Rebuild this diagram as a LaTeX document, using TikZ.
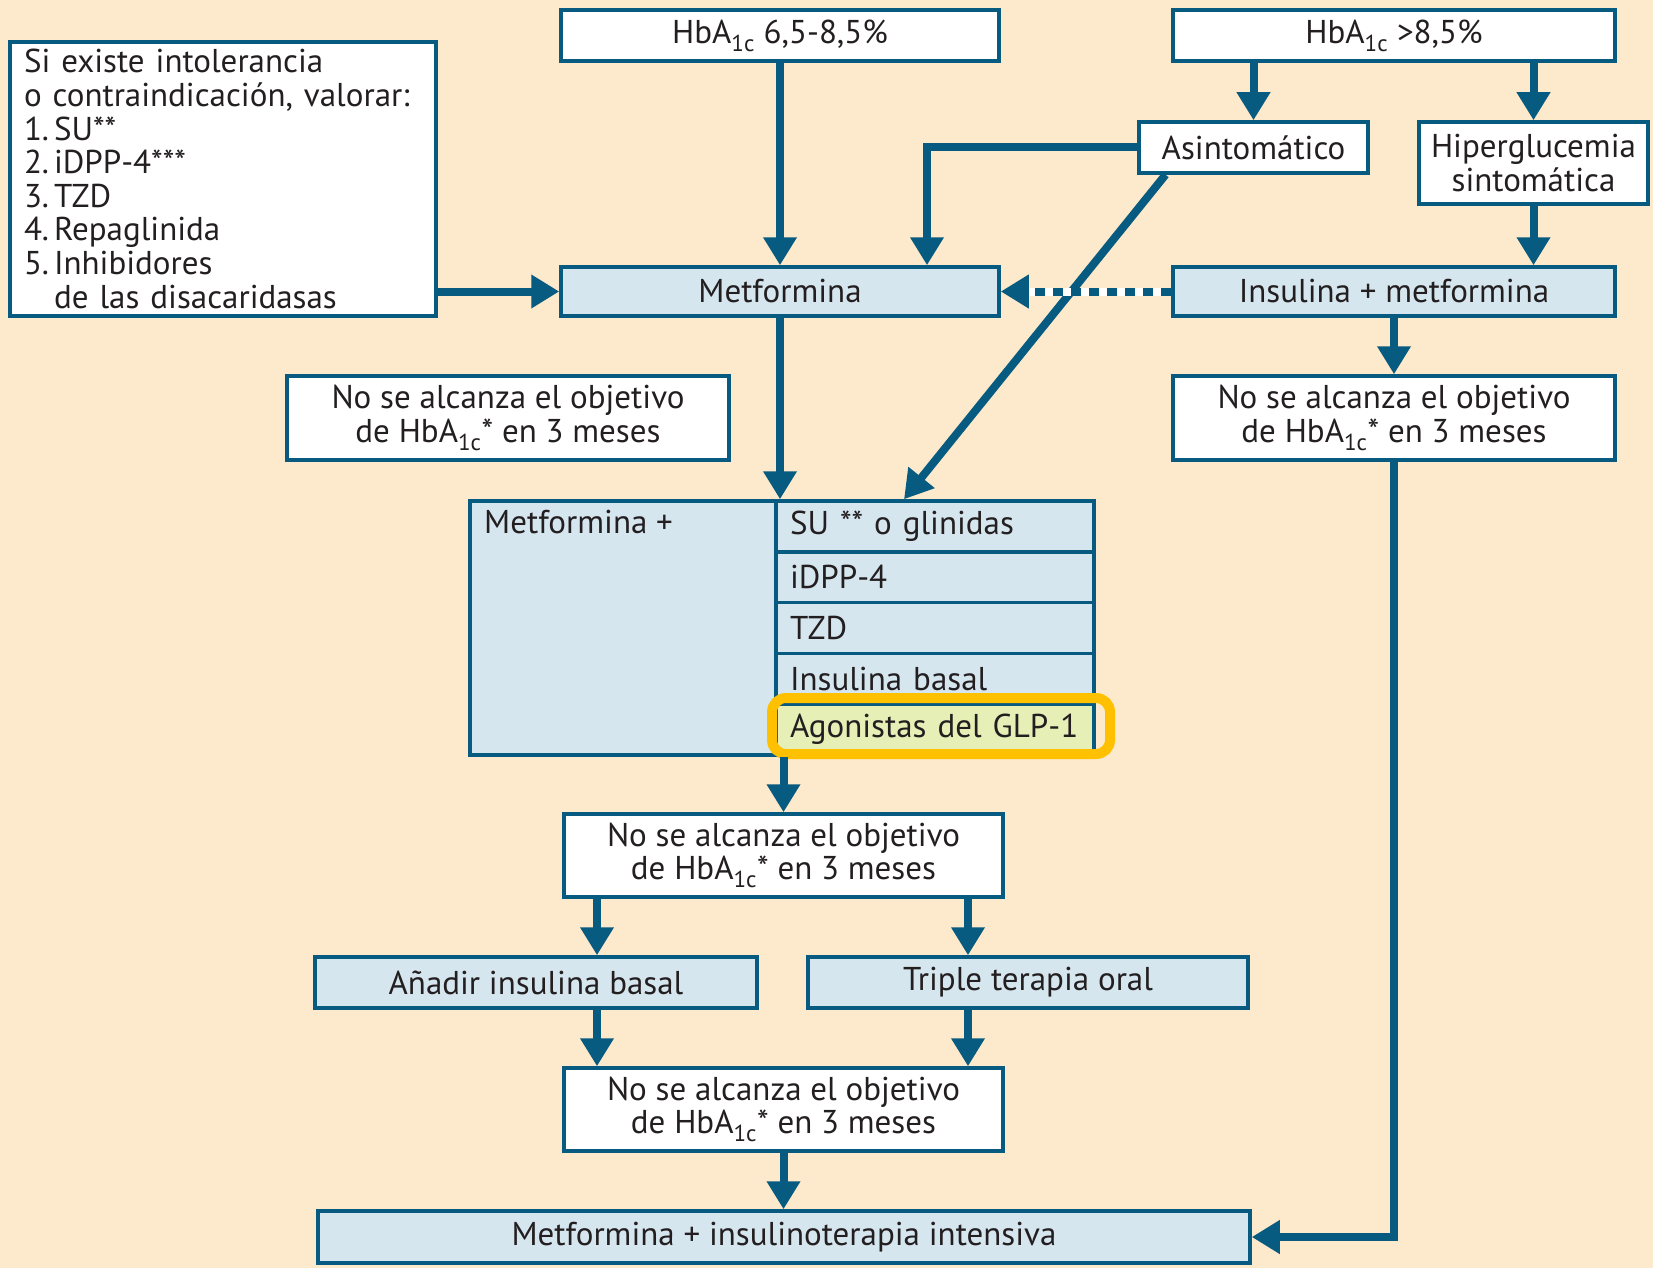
\documentclass[tikz,border=0pt]{standalone}
\usepackage{fontspec}
\setmainfont{PT Sans}
\usetikzlibrary{arrows.meta}
\definecolor{bg}{HTML}{FDE9CB}
\definecolor{lb}{HTML}{075B80}
\definecolor{fillb}{HTML}{D6E6EF}
\definecolor{orng}{HTML}{FFC000}
\definecolor{hl}{HTML}{E6EFB6}
\definecolor{txt}{HTML}{231F20}
\tikzset{
  box/.style={draw=lb, line width=3.5pt, fill=white, inner sep=0pt, text=txt,
    font=\fontsize{33}{33.6}\selectfont, align=center},
  bbox/.style={box, fill=fillb},
  rowbox/.style={bbox, minimum width=318pt, minimum height=50.8pt, text width=290pt, inner xsep=14pt, align=left},
  arr/.style={draw=lb, line width=8pt, -{Triangle[width=32pt,length=28pt]}},
  dotarr/.style={draw=lb, line width=8pt, dash pattern=on 10pt off 8pt, -{Triangle[width=32pt,length=28pt]}},
}
\begin{document}
\begin{tikzpicture}[x=1pt,y=-1pt]
\useasboundingbox (0,0) rectangle (1653,1268);
\fill[bg] (0,0) rectangle (1653,1268);

% nodes
\node[box, minimum width=426pt, minimum height=274pt, text width=398pt, inner xsep=14pt, align=left] (lbox) at (223,179)
  {Si existe intolerancia\\ o contraindicación, valorar:\\ 1.\kern5pt SU**\\ 2.\kern5pt iDPP-4***\\ 3.\kern5pt TZD\\ 4.\kern5pt Repaglinida\\ 5.\kern5pt Inhibidores\\ \phantom{5.}\kern5pt de las disacaridasas};
\node[box, minimum width=438pt, minimum height=51pt] (hb1) at (780,35.5) {HbA\textsubscript{1c} 6,5-8,5\%};
\node[box, minimum width=442pt, minimum height=51pt] (hb2) at (1394,35.5) {HbA\textsubscript{1c} >8,5\%};
\node[box, minimum width=229pt, minimum height=51pt] (asin) at (1253.5,147.5) {Asintomático};
\node[box, minimum width=229pt, minimum height=82pt] (hip) at (1533.5,163) {Hiperglucemia\\sintomática};
\node[bbox, minimum width=438pt, minimum height=49pt] (met) at (780,291.5) {Metformina};
\node[bbox, minimum width=442pt, minimum height=49pt] (ins) at (1394,291.5) {Insulina + metformina};
\node[box, minimum width=442pt, minimum height=84pt] (nsl) at (508,418) {No se alcanza el objetivo\\ de HbA\textsubscript{1c}* en 3 meses};
\node[box, minimum width=442pt, minimum height=84pt] (nsr) at (1394,418) {No se alcanza el objetivo\\ de HbA\textsubscript{1c}* en 3 meses};

\node[bbox, minimum width=306pt, minimum height=254pt] (mp) at (623,628) {};
\node[anchor=base west, inner sep=0pt, text=txt, font=\fontsize{33}{33.6}\selectfont] (mpl) at (484,533) {Metformina +};
\node[rowbox] (r1) at (935,526.4) {SU ** o glinidas};
\node[rowbox] (r2) at (935,577.2) {iDPP-4};
\node[rowbox] (r3) at (935,628) {TZD};
\node[rowbox] (r4) at (935,678.8) {Insulina basal};
\node[rowbox, fill=hl] (r5) at (935,729.6) {Agonistas del GLP-1};
\draw[orng, line width=10pt, rounded corners=14pt] (772,698) rectangle (1110,754);

\node[box, minimum width=439pt, minimum height=83pt] (nm1) at (783.5,855.5) {No se alcanza el objetivo\\ de HbA\textsubscript{1c}* en 3 meses};
\node[bbox, minimum width=442pt, minimum height=51pt] (add) at (536,982.5) {Añadir insulina basal};
\node[bbox, minimum width=440pt, minimum height=51pt] (tri) at (1028,982.5) {Triple terapia oral};
\node[box, minimum width=439pt, minimum height=83pt] (nm2) at (783.5,1109.5) {No se alcanza el objetivo\\ de HbA\textsubscript{1c}* en 3 meses};
\node[bbox, minimum width=932pt, minimum height=52pt] (fin) at (784,1237) {Metformina + insulinoterapia intensiva};

\coordinate (c1) at (597,0);
\coordinate (c2) at (968,0);

% connectors
\draw[arr] (hb1.south) -- (met.north);
\draw[arr] (asin.west) -| ([xshift=147pt]met.north);
\draw[arr] (asin.north |- hb2.south) -- (asin.north);
\draw[arr] (hip.north |- hb2.south) -- (hip.north);
\draw[arr] (hip.south) -- (hip.south |- ins.north);
\draw[arr] (lbox.east |- met.west) -- (met.west);
\draw[arr] (met.south) -- (met.south |- mp.north);
\draw[arr] ([xshift=-88pt]asin.south) -- ([xshift=-31pt]r1.north);
\draw[white, line width=8pt] (ins.west) -- ([xshift=20pt]met.east);
\draw[dotarr] (ins.west) -- (met.east);
\draw[arr] (ins.south) -- (nsr.north);
\draw[arr] (nsr.south) |- (fin.east);
\draw[arr] (nm1.north |- mp.south) -- (nm1.north);
\draw[arr] (nm1.south -| c1) -- (add.north -| c1);
\draw[arr] (nm1.south -| c2) -- (tri.north -| c2);
\draw[arr] (add.south -| c1) -- (nm2.north -| c1);
\draw[arr] (tri.south -| c2) -- (nm2.north -| c2);
\draw[arr] (nm2.south) -- (nm2.south |- fin.north);
\end{tikzpicture}
\end{document}
